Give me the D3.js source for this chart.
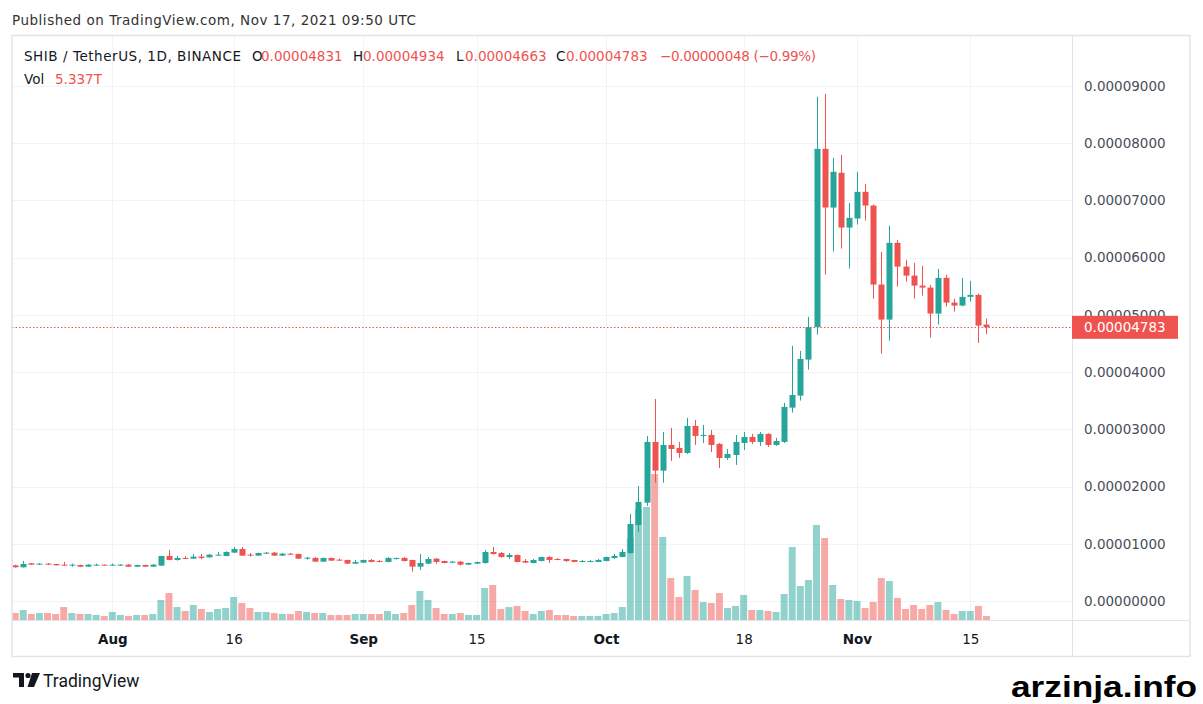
<!DOCTYPE html>
<html>
  <head>
    <meta charset="utf-8">
    <title>SHIB / TetherUS</title>
    <script src="https://d3js.org/d3.v7.min.js"></script>
  </head>
  <style>
    body { margin: 0; background: #fff; }
    svg { display: block; }
    .ax text { font-family: "DejaVu Sans", sans-serif; }
  </style>
  <body>
  <svg width="1203" height="704"></svg>
  <script>

  // prices are in units of 0.00001 USDT, volume in trillions (T)
  var firstDay = "2021-07-20", lastDay = "2021-11-17";

  var open = [0.624,0.589,0.659,0.641,0.653,0.647,0.635,0.624,0.629,0.600,0.624,0.635,0.624,0.624,0.635,0.600,0.629,0.600,0.618,0.787,
    0.717,0.752,0.740,0.775,0.763,0.798,0.787,0.845,0.909,0.810,0.793,0.827,0.845,0.793,0.827,0.822,0.740,0.752,0.688,0.752,
    0.723,0.717,0.653,0.670,0.717,0.699,0.682,0.740,0.752,0.717,0.600,0.653,0.740,0.699,0.670,0.688,0.635,0.653,0.664,0.857,
    0.839,0.769,0.804,0.699,0.664,0.699,0.769,0.734,0.734,0.717,0.682,0.682,0.682,0.699,0.752,0.769,0.839,1.329,1.719,2.780,
    2.278,2.727,2.675,2.587,3.059,2.890,2.902,2.745,2.500,2.552,2.762,2.867,2.780,2.920,2.727,2.780,3.379,3.589,4.219,4.785,
    7.902,6.876,7.483,6.526,6.684,7.150,6.911,5.530,4.918,6.259,5.844,5.687,5.512,5.477,5.023,5.647,5.215,5.163,5.315,5.350,
    4.831];
  var high = [0.635,0.699,0.664,0.660,0.664,0.650,0.682,0.653,0.635,0.645,0.653,0.638,0.653,0.645,0.647,0.635,0.635,0.647,0.790,0.892,
    0.787,0.787,0.822,0.822,0.822,0.857,0.868,0.944,0.944,0.839,0.845,0.857,0.857,0.839,0.839,0.827,0.769,0.769,0.758,0.758,
    0.740,0.723,0.717,0.723,0.734,0.717,0.769,0.758,0.769,0.723,0.822,0.769,0.752,0.705,0.699,0.699,0.670,0.688,0.892,0.944,
    0.857,0.839,0.810,0.734,0.734,0.775,0.787,0.752,0.740,0.720,0.717,0.717,0.734,0.775,0.822,0.909,1.521,2.010,2.885,3.531,
    2.955,3.024,2.780,3.199,3.164,3.077,2.990,2.762,2.657,2.902,2.955,2.920,2.955,2.930,2.850,3.462,4.458,4.371,4.965,8.811,
    8.864,7.745,7.797,6.958,7.500,7.290,6.930,6.101,6.556,6.311,5.962,5.909,5.857,5.524,5.804,5.699,5.285,5.647,5.594,5.370,
    4.934];
  var low = [0.585,0.585,0.630,0.630,0.630,0.620,0.620,0.600,0.595,0.595,0.618,0.620,0.618,0.618,0.595,0.595,0.595,0.595,0.612,0.712,
    0.705,0.735,0.735,0.728,0.758,0.795,0.782,0.840,0.787,0.775,0.787,0.820,0.787,0.787,0.805,0.735,0.723,0.682,0.682,0.700,
    0.700,0.647,0.647,0.664,0.676,0.676,0.676,0.723,0.693,0.513,0.542,0.647,0.653,0.658,0.664,0.618,0.630,0.647,0.653,0.810,
    0.758,0.734,0.676,0.664,0.660,0.693,0.664,0.712,0.682,0.678,0.678,0.678,0.678,0.693,0.734,0.764,0.822,1.206,1.661,2.068,
    2.068,2.448,2.500,2.570,2.727,2.762,2.605,2.325,2.465,2.378,2.640,2.745,2.710,2.692,2.710,2.762,3.292,3.502,4.044,4.656,
    5.705,6.107,6.159,5.810,6.579,6.649,5.285,4.323,4.551,5.495,5.582,5.285,5.337,4.603,4.830,5.145,5.058,5.150,5.233,4.510,
    4.663];
  var close = [0.589,0.647,0.635,0.653,0.635,0.624,0.624,0.635,0.600,0.635,0.635,0.624,0.635,0.635,0.600,0.629,0.600,0.635,0.787,0.717,
    0.752,0.740,0.775,0.752,0.810,0.810,0.857,0.909,0.793,0.798,0.839,0.845,0.793,0.827,0.810,0.740,0.758,0.688,0.752,0.705,
    0.705,0.653,0.682,0.717,0.682,0.682,0.752,0.752,0.699,0.600,0.664,0.734,0.682,0.664,0.688,0.635,0.664,0.682,0.857,0.822,
    0.769,0.804,0.682,0.670,0.717,0.769,0.717,0.717,0.699,0.682,0.699,0.699,0.717,0.769,0.787,0.857,1.346,1.731,2.780,2.278,
    2.727,2.657,2.587,3.059,2.885,2.902,2.727,2.500,2.570,2.780,2.867,2.780,2.920,2.727,2.797,3.392,3.601,4.231,4.785,7.902,
    6.876,7.500,6.526,6.696,7.150,6.911,5.530,4.918,6.259,5.844,5.687,5.512,5.477,5.023,5.647,5.215,5.163,5.315,5.350,4.813,
    4.783];
  var volume = [9.3,13.3,8.0,9.3,9.3,8.0,17.3,9.3,8.0,8.0,6.7,5.3,10.7,6.7,5.3,6.7,6.7,8.0,26.7,36.0,
    17.3,12.0,20.0,14.7,10.7,14.7,16.0,30.7,22.7,16.0,10.7,10.7,9.3,8.0,8.0,12.0,10.7,9.3,9.3,6.7,
    6.7,6.7,8.0,8.0,8.0,8.0,12.0,8.0,9.3,20.0,38.7,26.7,16.0,8.0,8.0,9.3,6.7,6.7,42.7,46.7,
    14.7,17.3,18.7,12.0,8.0,12.0,13.3,6.7,6.7,5.3,5.3,5.3,5.3,8.0,9.3,17.3,109.4,148.1,150.8,194.8,
    110.8,56.0,30.7,58.7,40.0,24.0,22.7,36.0,16.0,18.7,33.4,13.3,13.3,12.0,10.7,34.7,97.4,45.4,53.4,126.8,
    109.4,46.7,28.0,26.7,25.4,16.0,24.0,56.0,52.0,29.4,14.7,20.0,14.7,20.0,24.0,13.3,8.0,12.0,12.0,18.7,
    5.337];

  var priceTicks = [0, 1, 2, 3, 4, 5, 6, 7, 8, 9];
  var timeTicks = ["2021-08-01","2021-08-16","2021-09-01","2021-09-15","2021-10-01","2021-10-18","2021-11-01","2021-11-15"];

  var green = "#26a69a", red = "#ef5350";
  var parse = d3.utcParse("%Y-%m-%d");
  var days = d3.utcDay.range(parse(firstDay), d3.utcDay.offset(parse(lastDay), 1));

  var data = days.map(function(d, i) {
    return {date: d, o: open[i], h: high[i], l: low[i], c: close[i], v: volume[i]};
  });

  var svg = d3.select("svg");
  var plot = {left: 12, right: 1072, top: 36, bottom: 620};

  var x = d3.scaleUtc()
            .domain([parse("2021-08-01"), parse("2021-11-15")])
            .range([112.3, 970.3]);
  var y = d3.scaleLinear().domain([0, 9]).range([601, 86]);
  var vy = d3.scaleLinear().domain([0, d3.max(volume)]).range([plot.bottom, plot.bottom - 146]);

  var step = x(days[1]) - x(days[0]);

  svg.append("rect").attr("width", 1203).attr("height", 704).attr("fill", "#fff");

  svg.append("clipPath").attr("id", "clip")
    .append("rect")
    .attr("x", plot.left).attr("y", plot.top)
    .attr("width", plot.right - plot.left).attr("height", plot.bottom - plot.top);

  // grid
  var grid = svg.append("g");
  grid.selectAll(".hg").data(priceTicks).enter().append("line")
    .attr("x1", plot.left).attr("x2", plot.right)
    .attr("y1", function(d) { return Math.round(y(d)) + 0.5; })
    .attr("y2", function(d) { return Math.round(y(d)) + 0.5; })
    .attr("stroke", "#f0f3fa");
  grid.selectAll(".vg").data(timeTicks).enter().append("line")
    .attr("y1", plot.top).attr("y2", plot.bottom)
    .attr("x1", function(d) { return Math.round(x(parse(d))) + 0.5; })
    .attr("x2", function(d) { return Math.round(x(parse(d))) + 0.5; })
    .attr("stroke", "#f0f3fa");

  var g = svg.append("g").attr("clip-path", "url(#clip)");

  // volume
  g.selectAll(".vol").data(data).enter().append("rect")
    .attr("x", function(d) { return x(d.date) - step * 0.43; })
    .attr("width", step * 0.86)
    .attr("y", function(d) { return vy(d.v); })
    .attr("height", function(d) { return plot.bottom - vy(d.v); })
    .attr("fill", function(d) { return d.c >= d.o ? green : red; })
    .attr("fill-opacity", 0.5);

  // candles
  var candle = g.selectAll(".candle").data(data).enter().append("g");
  candle.append("line")
    .attr("x1", function(d) { return Math.round(x(d.date)) + 0.5; })
    .attr("x2", function(d) { return Math.round(x(d.date)) + 0.5; })
    .attr("y1", function(d) { return y(d.h); })
    .attr("y2", function(d) { return y(d.l); })
    .attr("stroke", function(d) { return d.c >= d.o ? green : red; });
  candle.append("rect")
    .attr("x", function(d) { return Math.round(x(d.date)) - 2.5; })
    .attr("width", 6)
    .attr("y", function(d) { return y(Math.max(d.o, d.c)); })
    .attr("height", function(d) { return Math.max(1, Math.abs(y(d.o) - y(d.c))); })
    .attr("fill", function(d) { return d.c >= d.o ? green : red; });

  // last price line
  var last = data[data.length - 1];
  svg.append("line")
    .attr("x1", plot.left).attr("x2", plot.right)
    .attr("y1", Math.round(y(last.c)) + 0.5).attr("y2", Math.round(y(last.c)) + 0.5)
    .attr("stroke", red).attr("stroke-dasharray", "1.5,2");

  // frame
  svg.append("rect")
    .attr("x", 12).attr("y", 35.5).attr("width", 1178).attr("height", 621)
    .attr("fill", "none").attr("stroke", "#e0e3eb").attr("stroke-width", 1.5);
  svg.append("line").attr("x1", 1072.5).attr("x2", 1072.5).attr("y1", 35).attr("y2", 656)
    .attr("stroke", "#e0e3eb");
  svg.append("line").attr("x1", 12).attr("x2", 1190).attr("y1", 620.5).attr("y2", 620.5)
    .attr("stroke", "#e0e3eb");

  // price axis; the label under the last-price tag only peeks out above it
  svg.append("clipPath").attr("id", "axclip")
    .append("rect").attr("x", 1072).attr("y", 0).attr("width", 131)
    .attr("height", y(last.c) - 11.5);
  svg.append("clipPath").attr("id", "axclip2")
    .append("rect").attr("x", 1072).attr("y", y(last.c) + 11.5).attr("width", 131).attr("height", 400);

  var ya = svg.append("g").attr("class", "ax")
    .attr("transform", "translate(" + plot.right + ",0)")
    .call(d3.axisRight(y).tickValues(priceTicks).tickSize(0).tickPadding(12)
      .tickFormat(function(d) { return (d * 1e-5).toFixed(8); }));
  ya.select(".domain").remove();
  ya.selectAll("text").attr("font-size", 13.5).attr("fill", "#4a4d57");

  // time axis
  var xa = svg.append("g").attr("class", "ax")
    .attr("transform", "translate(0," + plot.bottom + ")")
    .call(d3.axisBottom(x).tickValues(timeTicks.map(parse)).tickSize(0).tickPadding(14)
      .tickFormat(function(d) { return d.getUTCDate() === 1 ? d3.utcFormat("%b")(d) : d.getUTCDate(); }));
  xa.select(".domain").remove();
  xa.selectAll("text").attr("font-size", 13.5).attr("fill", "#131722")
    .attr("font-weight", function(d) { return d.getUTCDate() === 1 ? "bold" : "normal"; });

  // last price tag
  svg.append("rect").attr("x", 1072).attr("y", y(last.c) - 11.5).attr("width", 106).attr("height", 23)
    .attr("fill", red);
  svg.append("text").attr("x", 1084).attr("y", y(last.c) + 5)
    .attr("font-family", "DejaVu Sans").attr("font-size", 13.5).attr("fill", "#fff")
    .text((last.c * 1e-5).toFixed(8));

  // header and legend
  svg.append("text").attr("x", 12).attr("y", 25)
    .attr("font-family", "DejaVu Sans").attr("font-size", 13.5).attr("fill", "#333")
    .attr("textLength", 404)
    .text("Published on TradingView.com, Nov 17, 2021 09:50 UTC");

  var fmt = function(v) { return (v * 1e-5).toFixed(8); };
  var legend = [
    {x: 24, t: "SHIB / TetherUS, 1D, BINANCE", c: "#131722", w: 217},
    {x: 252, t: "O", c: "#131722"}, {x: 261, t: fmt(last.o), c: red},
    {x: 353, t: "H", c: "#131722"}, {x: 363, t: fmt(last.h), c: red},
    {x: 456, t: "L", c: "#131722"}, {x: 465, t: fmt(last.l), c: red},
    {x: 556, t: "C", c: "#131722"}, {x: 566, t: fmt(last.c), c: red},
    {x: 660, t: "\u22120.00000048 (\u22120.99%)", c: red, w: 156}
  ];
  svg.selectAll(".leg").data(legend).enter().append("text")
    .attr("x", function(d) { return d.x; }).attr("y", 61)
    .attr("font-family", "DejaVu Sans").attr("font-size", 13.5)
    .attr("fill", function(d) { return d.c; })
    .attr("textLength", function(d) { return d.w || null; })
    .text(function(d) { return d.t; });
  svg.append("text").attr("x", 24).attr("y", 84)
    .attr("font-family", "DejaVu Sans").attr("font-size", 13.5).attr("fill", "#131722").text("Vol");
  svg.append("text").attr("x", 55).attr("y", 84)
    .attr("font-family", "DejaVu Sans").attr("font-size", 13.5).attr("fill", red).text(last.v + "T");

  // TradingView logo
  var logo = svg.append("g").attr("fill", "#131722");
  logo.append("path").attr("d", "M13,673 H24 V687 H19 V677.5 H13 Z");
  logo.append("circle").attr("cx", 28).attr("cy", 675.5).attr("r", 2.6);
  logo.append("path").attr("d", "M32,673 H40 L34,687 H27.5 Z");
  svg.append("text").attr("x", 43).attr("y", 687)
    .attr("font-family", "Roboto").attr("font-size", 17.5).attr("fill", "#131722")
    .text("TradingView");

  svg.append("text").attr("x", 1011).attr("y", 697)
    .attr("font-family", "Liberation Sans").attr("font-weight", "bold").attr("font-size", 30)
    .attr("textLength", 186).attr("lengthAdjust", "spacingAndGlyphs")
    .attr("fill", "#000")
    .text("arzinja.info");

  </script>
  </body>
</html>
